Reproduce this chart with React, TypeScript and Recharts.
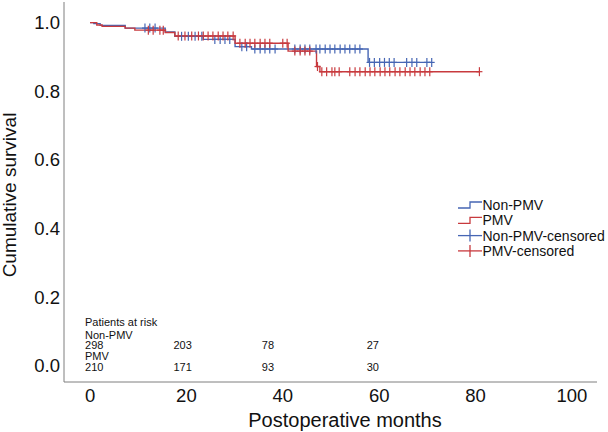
import React from "react";
import { ComposedChart, Line, Scatter, XAxis, YAxis } from "recharts";

// step points of the Kaplan-Meier curves (month, cumulative survival)
const nonPmvTimes = [0, 0.8, 2.1, 7.3, 15.6, 17.6, 23.5, 30.1, 33.5, 57.7, 70.9];
const nonPmvSurv = [1, 0.997, 0.992, 0.984, 0.973, 0.96, 0.951, 0.93, 0.923, 0.884, 0.884];
const pmvTimes = [0, 1.4, 2.5, 7.3, 9.3, 15.6, 17.6, 30.1, 41.1, 47.0, 47.7, 80.8];
const pmvSurv = [1, 0.993, 0.989, 0.984, 0.978, 0.971, 0.961, 0.94, 0.917, 0.872, 0.857, 0.857];

// censored observations (months)
const nonPmvCensorTimes = [
	11.4, 12.4, 13.5, 19.0, 20.4, 21.8, 23.2, 25.9, 27.0, 28.0, 29.0, 31.5, 32.5,
	34.2, 35.3, 36.3, 37.3, 38.4, 42.5, 43.6, 44.6, 45.6, 46.9, 47.7, 48.8, 49.8,
	50.8, 51.9, 52.9, 53.9, 55.0, 56.0, 58.0, 59.0, 60.1, 61.1, 62.1, 63.1, 65.7,
	66.8, 67.8, 69.9, 70.9,
];
const pmvCensorTimes = [
	12.1, 13.1, 14.5, 15.2, 18.3, 19.7, 21.1, 22.5, 23.5, 24.5, 25.5, 26.6, 27.6,
	28.6, 29.7, 31.1, 32.2, 33.2, 34.2, 35.3, 36.3, 37.3, 40.0, 40.9, 42.5, 43.6,
	44.6, 45.6, 47.2, 48.1, 49.1, 50.2, 50.8, 51.7, 53.9, 55.0, 56.0, 57.1, 58.1,
	59.1, 60.2, 61.2, 62.2, 63.3, 64.3, 65.4, 66.4, 67.4, 68.5, 69.5, 70.5, 80.8,
];

// patients at risk table
const riskTimes = [0, 20, 40, 60];
const nonPmvAtRisk = [298, 203, 78, 27];
const pmvAtRisk = [210, 171, 93, 30];

const xTicks = [0, 20, 40, 60, 80, 100];
const yTicks = [0, 0.2, 0.4, 0.6, 0.8, 1.0];

const legendNames = ["Non-PMV", "PMV", "Non-PMV-censored", "PMV-censored"];

const BLUE = "#4666b4";
const RED = "#c83a3e";
const AXIS = "#7f7f7f";
const FONT = '"Liberation Sans", Arial, Helvetica, sans-serif';
// horizontal nudge of each at-risk column, px
const riskDx = [-5, -13, -21, -12.5];

function toPoints(times: number[], surv: number[]) {
	return times.map((t, i) => ({ t, s: surv[i] }));
}

// survival value of the step function at time t
function survAt(times: number[], surv: number[], t: number) {
	let s = surv[0];
	for (let i = 0; i < times.length; i++) if (times[i] <= t) s = surv[i];
	return s;
}

const nonPmvLine = toPoints(nonPmvTimes, nonPmvSurv);
const pmvLine = toPoints(pmvTimes, pmvSurv);
const nonPmvCensored = nonPmvCensorTimes.map((t) => ({ t, s: survAt(nonPmvTimes, nonPmvSurv, t) }));
const pmvCensored = pmvCensorTimes.map((t) => ({ t, s: survAt(pmvTimes, pmvSurv, t) }));
const riskRows = riskTimes.map((t, i) => ({ t, s: 0, col: i, top: nonPmvAtRisk[i], bottom: pmvAtRisk[i] }));

const censorShape = (color: string) => (props: any) => {
	const { cx, cy } = props;
	if (cx == null || cy == null) return <g />;
	return (
		<g stroke={color} strokeWidth={1.2}>
			<line x1={cx - 3} x2={cx + 3} y1={cy} y2={cy} />
			<line x1={cx} x2={cx} y1={cy - 4.5} y2={cy + 4.5} />
		</g>
	);
};

function RiskCell(props: any) {
	const { cx, cy, payload } = props;
	if (cx == null || cy == null) return <g />;
	const first = payload.col === 0;
	const x = cx + riskDx[payload.col];
	const txt = { x, fontFamily: FONT, fontSize: 11, fill: "#111", dominantBaseline: "central" as const };
	return (
		<g>
			{first && (
				<>
					<text {...txt} y={cy - 44.3}>Patients at risk</text>
					<text {...txt} y={cy - 31}>Non-PMV</text>
					<text {...txt} y={cy - 9.5}>PMV</text>
				</>
			)}
			<text {...txt} y={cy - 20.5}>{payload.top}</text>
			<text {...txt} y={cy + 1}>{payload.bottom}</text>
		</g>
	);
}

function Legend() {
	return (
		<svg width={153} height={70} style={{ position: "absolute", left: 455, top: 195 }}>
			{legendNames.map((name, i) => {
				const y = 10 + i * 15.3;
				const color = i % 2 === 0 ? BLUE : RED;
				return (
					<g key={name}>
						{i < 2 ? (
							<polyline
								points={`3,${y + 3} 15,${y + 3} 15,${y - 3} 27,${y - 3}`}
								fill="none"
								stroke={color}
								strokeWidth={1.3}
							/>
						) : (
							<g stroke={color} strokeWidth={1.3}>
								<line x1={3} x2={27} y1={y} y2={y} />
								<line x1={15} x2={15} y1={y - 6} y2={y + 6} />
							</g>
						)}
						<text x={27.5} y={y} fontFamily={FONT} fontSize={14} fill="#111" dominantBaseline="central">
							{name}
						</text>
					</g>
				);
			})}
		</svg>
	);
}

export default function App() {
	const tickStyle = { fill: "#111", fontSize: 18.5, fontFamily: FONT };
	return (
		<div style={{ position: "absolute", left: 0, top: 0, width: 608, height: 432, background: "#fff" }}>
			<ComposedChart width={608} height={432} margin={{ top: 2, right: 11, bottom: 0, left: 0 }}>
				<XAxis
					type="number"
					dataKey="t"
					domain={[-5.4, 105.2]}
					ticks={xTicks}
					allowDataOverflow
					tickLine={false}
					tickSize={0}
					tickMargin={7}
					axisLine={{ stroke: AXIS }}
					tick={tickStyle}
					height={50}
					label={() => (
						<text x={345} y={420} textAnchor="middle" dominantBaseline="central" fontFamily={FONT} fontSize={20} fill="#111">
							Postoperative months
						</text>
					)}
				/>
				<YAxis
					type="number"
					dataKey="s"
					domain={[-0.047, 1.06]}
					ticks={yTicks}
					allowDataOverflow
					tickFormatter={(v: number) => v.toFixed(1)}
					width={64}
					tickLine={false}
					tickSize={0}
					tickMargin={4}
					axisLine={{ stroke: AXIS }}
					tick={tickStyle}
					label={() => (
						<text
							x={9}
							y={195}
							transform="rotate(-90, 9, 195)"
							textAnchor="middle"
							dominantBaseline="central"
							fontFamily={FONT}
							fontSize={19}
							fill="#111"
						>
							Cumulative survival
						</text>
					)}
				/>
				<Line data={nonPmvLine} dataKey="s" type="stepAfter" stroke={BLUE} strokeWidth={1.4} dot={false} isAnimationActive={false} />
				<Line data={pmvLine} dataKey="s" type="stepAfter" stroke={RED} strokeWidth={1.4} dot={false} isAnimationActive={false} />
				<Scatter data={nonPmvCensored} dataKey="s" shape={censorShape(BLUE)} isAnimationActive={false} />
				<Scatter data={pmvCensored} dataKey="s" shape={censorShape(RED)} isAnimationActive={false} />
				<Scatter data={riskRows} dataKey="s" shape={RiskCell} isAnimationActive={false} />
			</ComposedChart>
			<Legend />
		</div>
	);
}
